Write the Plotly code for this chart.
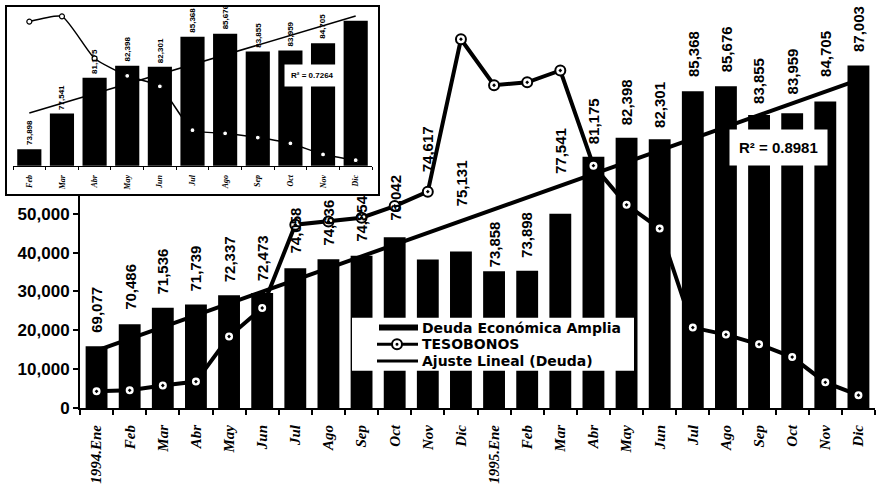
import numpy as np
import plotly.graph_objects as go

# ---------------- data ----------------
months = ["1994.Ene", "Feb", "Mar", "Abr", "May", "Jun", "Jul", "Ago", "Sep", "Oct", "Nov", "Dic",
          "1995.Ene", "Feb", "Mar", "Abr", "May", "Jun", "Jul", "Ago", "Sep", "Oct", "Nov", "Dic"]
deuda = [69077, 70486, 71536, 71739, 72337, 72473, 74058, 74636, 74854, 76042, 74617, 75131,
         73858, 73898, 77541, 81175, 82398, 82301, 85368, 85676, 83855, 83959, 84705, 87003]
tesobonos = [4300, 4550, 5800, 6800, 18400, 25750, 47200, 48000, 49000, 52000, 55700, 94950,
             83100, 83850, 86900, 62400, 52300, 46200, 20700, 18900, 16400, 13100, 6600, 3300]
ytick_vals = [0, 10000, 20000, 30000, 40000, 50000]
legend_names = ["Deuda Económica Amplia", "TESOBONOS", "Ajuste Lineal (Deuda)"]
r2_main = "R² = 0.8981"
r2_inset = "R² = 0.7264"
inset_start = 13  # inset shows 1995 Feb..Dic

# per-label pixel gap above bar tops (style only)
label_gap_px = [12, 13, 12, 12, 12, 11, 14, 13, 13, 15, 86, 44,
                3, 12, 39, 12, 11, 10, 13, 13, 10, 18, 24, 13]

x = list(range(len(months)))
coef = np.polyfit(x, deuda, 1)
trend = np.polyval(coef, x)

months_i = months[inset_start:]
deuda_i = deuda[inset_start:]
teso_i = tesobonos[inset_start:]
xi = list(range(len(months_i)))
coef_i = np.polyfit(xi, deuda_i, 1)
trend_i = np.polyval(coef_i, xi)

SANS = "Liberation Sans, Arial, sans-serif"
WIDE = "DejaVu Sans, Liberation Sans, sans-serif"
SERIF = "Liberation Serif, Times New Roman, serif"


def px_x(p):  # pixel -> paper x  (paper spans px 5..875)
    return (p - 5) / 870


def px_y(p):  # pixel -> paper y  (paper spans px 5..415)
    return (415 - p) / 410


fig = go.Figure()

# ---------------- main chart ----------------
fig.add_trace(go.Bar(x=x, y=deuda, xaxis="x", yaxis="y", width=0.66,
                     marker=dict(color="black", line=dict(width=0)),
                     name=legend_names[0], showlegend=False, hoverinfo="skip"))
fig.add_trace(go.Scatter(x=x, y=trend, xaxis="x", yaxis="y", mode="lines",
                         line=dict(color="black", width=4),
                         name=legend_names[2], showlegend=False))
fig.add_trace(go.Scatter(x=x, y=tesobonos, xaxis="x", yaxis="y2", mode="lines+markers",
                         line=dict(color="black", width=4),
                         marker=dict(symbol="circle-dot", size=10, color="white",
                                     line=dict(color="black", width=2)),
                         name=legend_names[1], showlegend=False))

# ---------------- inset background subplot ----------------
fig.add_trace(go.Scatter(x=[None], y=[None], xaxis="x2", yaxis="y5", showlegend=False,
                         hoverinfo="skip"))

# ---------------- inset chart ----------------
fig.add_trace(go.Bar(x=xi, y=deuda_i, xaxis="x3", yaxis="y3", width=0.74,
                     marker=dict(color="black", line=dict(width=0)),
                     showlegend=False, hoverinfo="skip"))
fig.add_trace(go.Scatter(x=xi, y=trend_i, xaxis="x3", yaxis="y3", mode="lines",
                         line=dict(color="black", width=1.5), showlegend=False))
fig.add_trace(go.Scatter(x=xi, y=teso_i, xaxis="x3", yaxis="y4", mode="lines+markers",
                         line=dict(color="black", width=1.5, shape="spline", smoothing=0.5),
                         marker=dict(symbol="circle", size=5, color="white",
                                     line=dict(color="black", width=1.2)),
                         showlegend=False))

# ---------------- annotations ----------------
annotations = []
for i, v in enumerate(deuda):
    annotations.append(dict(x=i, y=v, xref="x", yref="y", text=f"{v:,}", textangle=-90,
                            showarrow=False, xanchor="center", yanchor="bottom",
                            yshift=label_gap_px[i], borderpad=0,
                            font=dict(family=SANS, size=15, color="black", weight="bold")))
# inset value labels (the last one is hidden behind the inset frame in the original)
for i, v in enumerate(deuda_i[:-1]):
    annotations.append(dict(x=i, y=v, xref="x3", yref="y3", text=f"{v:,}", textangle=-90,
                            showarrow=False, xanchor="center", yanchor="bottom",
                            yshift=3, borderpad=0,
                            font=dict(family=SANS, size=8, color="black", weight="bold")))
annotations.append(dict(x=px_x(778), y=px_y(149), xref="paper", yref="paper", text=r2_main,
                        showarrow=False, xanchor="center", yanchor="middle",
                        bgcolor="white", borderpad=9,
                        font=dict(family=SANS, size=15, color="black", weight="bold")))
annotations.append(dict(x=px_x(312), y=px_y(76), xref="paper", yref="paper", text=r2_inset,
                        showarrow=False, xanchor="center", yanchor="middle",
                        bgcolor="white", borderpad=6,
                        font=dict(family=SANS, size=8, color="black", weight="bold")))

# ---------------- hand-drawn legend (matches the tight original legend) ----------------
leg_rows_px = [333, 350, 367]
shapes = [
    dict(type="rect", xref="paper", yref="paper", layer="above",
         x0=px_x(352), x1=px_x(634), y0=px_y(377), y1=px_y(323),
         fillcolor="white", line=dict(width=0)),
    dict(type="line", xref="paper", yref="paper", layer="above",
         x0=px_x(379), x1=px_x(418), y0=px_y(leg_rows_px[0]), y1=px_y(leg_rows_px[0]),
         line=dict(color="black", width=6)),
    dict(type="line", xref="paper", yref="paper", layer="above",
         x0=px_x(377), x1=px_x(418), y0=px_y(leg_rows_px[1]), y1=px_y(leg_rows_px[1]),
         line=dict(color="black", width=3)),
    dict(type="circle", xref="paper", yref="paper", layer="above",
         xsizemode="pixel", ysizemode="pixel",
         xanchor=px_x(397), yanchor=px_y(leg_rows_px[1]), x0=-5, x1=5, y0=-5, y1=5,
         fillcolor="white", line=dict(color="black", width=2)),
    dict(type="circle", xref="paper", yref="paper", layer="above",
         xsizemode="pixel", ysizemode="pixel",
         xanchor=px_x(397), yanchor=px_y(leg_rows_px[1]), x0=-1.5, x1=1.5, y0=-1.5, y1=1.5,
         fillcolor="black", line=dict(color="black", width=0)),
    dict(type="line", xref="paper", yref="paper", layer="above",
         x0=px_x(377), x1=px_x(418), y0=px_y(leg_rows_px[2]), y1=px_y(leg_rows_px[2]),
         line=dict(color="black", width=3)),
]
for name, row in zip(legend_names, leg_rows_px):
    annotations.append(dict(x=px_x(421), y=px_y(row), xref="paper", yref="paper", text=name,
                            showarrow=False, xanchor="left", yanchor="middle", borderpad=0,
                            font=dict(family=WIDE, size=14, color="black", weight="bold")))

tickfont_x = dict(family=SERIF, size=15, color="black", weight="bold", style="italic")

fig.update_layout(
    width=880, height=489,
    margin=dict(l=5, r=5, t=5, b=74),
    paper_bgcolor="white", plot_bgcolor="white",
    showlegend=False,
    xaxis=dict(domain=[px_x(80), 1.0], anchor="y", range=[-0.5, len(months) - 0.5],
               tickmode="array", tickvals=x, ticktext=months, tickangle=-90,
               ticks="outside", ticklen=9, tickcolor="rgba(0,0,0,0)",
               tickfont=tickfont_x,
               minor=dict(tick0=0.5, dtick=1, ticks="outside", ticklen=5, tickwidth=2,
                          tickcolor="black"),
               showline=True, linecolor="black", linewidth=2, showgrid=False, zeroline=False),
    yaxis=dict(domain=[0, 1], anchor="x", range=[65130, 90810],
               showticklabels=False, ticks="", showline=False, showgrid=False, zeroline=False),
    yaxis2=dict(overlaying="y", anchor="x", side="left", range=[0, 103500],
                tickmode="array", tickvals=ytick_vals, tickformat=",",
                ticks="outside", ticklen=5, tickwidth=2, tickcolor="black",
                tickfont=dict(family=SANS, size=17, color="black", weight="bold"),
                showline=True, linecolor="black", linewidth=2, showgrid=False, zeroline=False),
    # inset background + frame
    xaxis2=dict(domain=[px_x(7), px_x(378)], anchor="y5", range=[0, 1],
                showticklabels=False, ticks="", showgrid=False, zeroline=False,
                showline=True, mirror=True, linecolor="black", linewidth=2),
    yaxis5=dict(domain=[px_y(197), px_y(6)], anchor="x2", range=[0, 1],
                showticklabels=False, ticks="", showgrid=False, zeroline=False,
                showline=True, mirror=True, linecolor="black", linewidth=2),
    # inset plot
    xaxis3=dict(domain=[px_x(13), px_x(372)], anchor="y3", range=[-0.5, len(months_i) - 0.5],
                tickmode="array", tickvals=xi, ticktext=months_i, tickangle=-90,
                ticks="outside", ticklen=5, tickcolor="rgba(0,0,0,0)",
                tickfont=dict(family=SERIF, size=8, color="black", weight="bold", style="italic"),
                minor=dict(tick0=0.5, dtick=1, ticks="outside", ticklen=3, tickwidth=1,
                           tickcolor="black"),
                showline=True, linecolor="black", linewidth=1, showgrid=False, zeroline=False),
    yaxis3=dict(domain=[px_y(168), px_y(8)], anchor="x3", range=[72200, 88200],
                showticklabels=False, ticks="", showline=False, showgrid=False, zeroline=False),
    yaxis4=dict(overlaying="y3", anchor="x3", side="left", range=[0, 91200],
                showticklabels=False, ticks="", showline=False, showgrid=False, zeroline=False),
    annotations=annotations,
    shapes=shapes,
)

fig.write_html("out.html")
